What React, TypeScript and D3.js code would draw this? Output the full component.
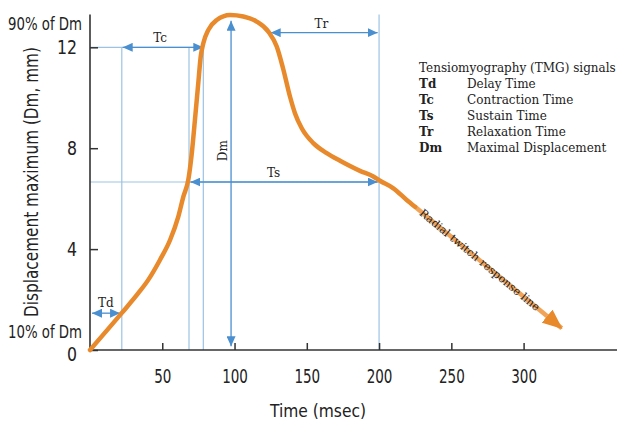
import * as d3 from 'd3';
import React, { useRef, useEffect } from 'react';

// TMG displacement curve (time in ms, displacement in mm)
const curveTime = [0, 21.9, 33.4, 40.3, 48.4, 55.4, 61.1, 64.6, 68, 70.3, 72.6, 74.9, 76.6, 78.4, 81.9, 87.7, 96.9, 106.1, 115.3, 123.4, 129.2, 133.5, 138.4, 141.8, 146.5, 154.5, 163.8, 173, 186.8, 196, 200.6, 209.9, 219.1, 224.9];
const curveDisp = [0, 1.46, 2.25, 2.78, 3.57, 4.36, 5.29, 6.08, 6.74, 7.73, 9.12, 10.57, 11.63, 12.16, 12.69, 13.08, 13.28, 13.22, 13.02, 12.62, 12.03, 11.18, 10.04, 9.39, 8.79, 8.2, 7.8, 7.5, 7.1, 6.88, 6.71, 6.41, 5.95, 5.68];

// straight "radial twitch response line" tail
const tailTime = [224.9, 326.4];
const tailDisp = [5.68, 0.86];

const xTicks = [50, 100, 150, 200, 250, 300];
const yTicks = [0, 4, 8, 12];

// guide lines (ms) and their top (mm)
const guideTime = [22, 68.5, 78.4, 200];
const guideTop = [12, 12, 12, 13.3];

const signalCodes = ['Td', 'Tc', 'Ts', 'Tr', 'Dm'];
const signalNames = ['Delay Time', 'Contraction Time', 'Sustain Time', 'Relaxation Time', 'Maximal Displacement'];

const ORANGE = '#e8892b';
const TAIL = '#f0a45a';
const GUIDE = '#9cc3e2';
const ARROW = '#4a8fcf';
const AXIS = '#333';
const NARROW = '"Liberation Sans Narrow", "DejaVu Sans Condensed", "Roboto Condensed", "DejaVu Sans", sans-serif';
const SERIF = '"DejaVu Serif", "Liberation Serif", serif';

function App() {
    const ref = useRef<SVGSVGElement>(null);

    useEffect(() => {
        const width = 617;
        const height = 423;
        const svg = d3.select(ref.current)
            .attr('width', width)
            .attr('height', height);
        svg.selectAll('*').remove();

        const x = d3.scaleLinear().domain([0, 300]).range([90, 523.6]);
        const y = d3.scaleLinear().domain([0, 12]).range([350, 47.3]);

        const defs = svg.append('defs');
        defs.append('marker')
            .attr('id', 'blueHead')
            .attr('markerUnits', 'userSpaceOnUse')
            .attr('markerWidth', 10).attr('markerHeight', 9)
            .attr('refX', 10).attr('refY', 4.5)
            .attr('orient', 'auto-start-reverse')
            .append('path').attr('d', 'M0,0L10,4.5L0,9Z').attr('fill', ARROW);
        defs.append('marker')
            .attr('id', 'orangeHead')
            .attr('markerUnits', 'userSpaceOnUse')
            .attr('markerWidth', 20).attr('markerHeight', 17)
            .attr('refX', 19).attr('refY', 8.5)
            .attr('orient', 'auto')
            .append('path').attr('d', 'M0,0L20,8.5L0,17Z').attr('fill', ORANGE);

        // guide lines
        const g = svg.append('g').attr('stroke', GUIDE).attr('stroke-width', 1.2);
        guideTime.forEach((t, i) => {
            g.append('line')
                .attr('x1', x(t)).attr('x2', x(t))
                .attr('y1', y(guideTop[i])).attr('y2', y(0));
        });
        g.append('line').attr('x1', x(0)).attr('x2', x(78.4)).attr('y1', y(12)).attr('y2', y(12));
        g.append('line').attr('x1', x(0)).attr('x2', x(200)).attr('y1', y(6.66)).attr('y2', y(6.66));

        // double arrows
        const arrows = [
            { x1: x(1.4), y1: y(1.46), x2: x(20.8), y2: y(1.46) },   // Td
            { x1: x(22.6), y1: y(12), x2: x(78.4), y2: y(12) },      // Tc
            { x1: x(69.5), y1: y(6.66), x2: x(199), y2: y(6.66) },   // Ts
            { x1: x(125), y1: y(12.58), x2: x(199), y2: y(12.58) },  // Tr
            { x1: x(97.6), y1: y(0.15), x2: x(97.6), y2: y(13.05) }, // Dm
        ];
        svg.append('g').selectAll('line').data(arrows).enter().append('line')
            .attr('x1', (d) => d.x1).attr('y1', (d) => d.y1)
            .attr('x2', (d) => d.x2).attr('y2', (d) => d.y2)
            .attr('stroke', ARROW).attr('stroke-width', 1.3)
            .attr('marker-start', 'url(#blueHead)')
            .attr('marker-end', 'url(#blueHead)');

        const lab = svg.append('g').attr('font-family', SERIF).attr('font-size', 12).attr('fill', '#222');
        lab.append('text').attr('x', x(11)).attr('y', y(1.46) - 6).attr('text-anchor', 'middle').text('Td');
        lab.append('text').attr('x', x(48.5)).attr('y', y(12) - 5).attr('text-anchor', 'middle').text('Tc');
        lab.append('text').attr('x', x(127)).attr('y', y(6.66) - 5).attr('text-anchor', 'middle').text('Ts');
        lab.append('text').attr('x', x(160)).attr('y', y(12.58) - 5).attr('text-anchor', 'middle').text('Tr');
        lab.append('text')
            .attr('transform', `translate(${x(97.6) - 8},${y(7.9)}) rotate(-90)`)
            .attr('text-anchor', 'middle').attr('dominant-baseline', 'central').text('Dm');

        // axes
        const yAxis = svg.append('g')
            .attr('transform', `translate(${x(0)},0)`)
            .call(d3.axisLeft(y).tickValues(yTicks).tickSizeInner(-8).tickSizeOuter(0).tickPadding(13));
        const xAxis = svg.append('g')
            .attr('transform', `translate(0,${y(0)})`)
            .call(d3.axisBottom(x).tickValues(xTicks).tickSizeInner(-7).tickSizeOuter(0).tickPadding(19));
        [yAxis, xAxis].forEach((a) => {
            a.select('.domain').remove();
            a.selectAll('line').attr('stroke', AXIS).attr('stroke-width', 1.5);
            a.selectAll('text').attr('font-family', NARROW).attr('fill', '#222')
                .attr('lengthAdjust', 'spacingAndGlyphs');
        });
        xAxis.selectAll('text').attr('font-size', 20)
            .attr('textLength', (d: any) => String(d).length * 8.6);
        yAxis.selectAll('text').attr('font-size', 19)
            .attr('textLength', (d: any) => String(d).length * 10);
        yAxis.selectAll('.tick').filter((d) => d === 0).select('text').attr('dy', '0.55em');
        svg.append('line').attr('x1', x(0)).attr('x2', width).attr('y1', y(0)).attr('y2', y(0))
            .attr('stroke', AXIS).attr('stroke-width', 1.6);
        svg.append('line').attr('x1', x(0)).attr('x2', x(0)).attr('y1', y(0)).attr('y2', y(13.3))
            .attr('stroke', AXIS).attr('stroke-width', 1.6);

        const ax = svg.append('g').attr('font-family', NARROW).attr('fill', '#222');
        ax.append('text').attr('x', 82).attr('y', y(12.93)).attr('dy', '0.35em')
            .attr('text-anchor', 'end').attr('font-size', 17)
            .attr('textLength', 74).attr('lengthAdjust', 'spacingAndGlyphs').text('90% of Dm');
        ax.append('text').attr('x', 82).attr('y', y(0.71)).attr('dy', '0.35em')
            .attr('text-anchor', 'end').attr('font-size', 17)
            .attr('textLength', 74).attr('lengthAdjust', 'spacingAndGlyphs').text('10% of Dm');
        ax.append('text').attr('x', 318).attr('y', 416.5)
            .attr('text-anchor', 'middle').attr('font-size', 18)
            .attr('textLength', 96).attr('lengthAdjust', 'spacingAndGlyphs').text('Time (msec)');
        ax.append('text')
            .attr('transform', 'translate(31,182) rotate(-90)')
            .attr('text-anchor', 'middle').attr('dominant-baseline', 'central')
            .attr('font-size', 19)
            .attr('textLength', 270).attr('lengthAdjust', 'spacingAndGlyphs')
            .text('Displacement maximum (Dm, mm)');

        // curve
        const pts = curveTime.map((t, i) => [t, curveDisp[i]] as [number, number]);
        const line = d3.line<[number, number]>()
            .x((d) => x(d[0])).y((d) => y(d[1]))
            .curve(d3.curveMonotoneX);
        const tail = tailTime.map((t, i) => [t, tailDisp[i]] as [number, number]);
        svg.append('path').datum(tail)
            .attr('d', d3.line<[number, number]>().x((d) => x(d[0])).y((d) => y(d[1])))
            .attr('fill', 'none').attr('stroke', TAIL).attr('stroke-width', 4.5)
            .attr('marker-end', 'url(#orangeHead)');
        svg.append('path').datum(pts)
            .attr('d', line)
            .attr('fill', 'none').attr('stroke', ORANGE).attr('stroke-width', 4.5)
            .attr('stroke-linecap', 'round');

        // label along the tail
        const p0 = [x(tail[0][0]), y(tail[0][1])];
        const p1 = [x(tail[1][0]), y(tail[1][1])];
        const ang = Math.atan2(p1[1] - p0[1], p1[0] - p0[0]) * 180 / Math.PI;
        const f = 0.44;
        svg.append('text')
            .attr('transform', `translate(${p0[0] + (p1[0] - p0[0]) * f},${p0[1] + (p1[1] - p0[1]) * f}) rotate(${ang})`)
            .attr('text-anchor', 'middle').attr('dominant-baseline', 'central')
            .attr('font-family', SERIF).attr('font-size', 11).attr('fill', '#222')
            .text('Radial twitch response line');

        // legend
        const leg = svg.append('g').attr('font-family', SERIF).attr('font-size', 12).attr('fill', '#222');
        leg.append('text').attr('x', 419).attr('y', 72).text('Tensiomyography (TMG) signals');
        signalCodes.forEach((c, i) => {
            leg.append('text').attr('x', 419).attr('y', 88 + i * 16).attr('font-weight', 'bold').text(c);
            leg.append('text').attr('x', 467).attr('y', 88 + i * 16).text(signalNames[i]);
        });
    }, []);

    return (
        <div className="chart" style={{ position: 'absolute', left: 0, top: 0, background: '#fff' }}>
            <svg ref={ref}></svg>
        </div>
    );
}

export default App;
